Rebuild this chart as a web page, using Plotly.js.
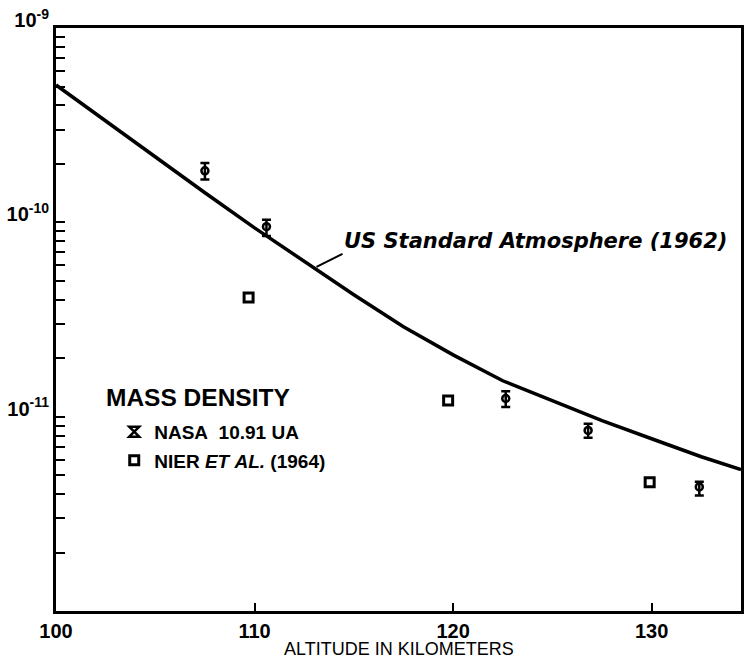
<!DOCTYPE html>
<html>
<head>
<meta charset="utf-8">
<script src="https://cdn.plot.ly/plotly-3.0.1.min.js"></script>
<style>html,body{margin:0;padding:0;background:#fff}#chart{width:745px;height:658px}</style>
</head>
<body>
<div id="chart"></div>
<script>
// US Standard Atmosphere (1962) curve
const curveAlt = [100,102.5,105,107.5,110,112.5,115,117.5,120,122.5,125,127.5,130,132.5,134.5];
const curveRho = [5.09e-10,3.32e-10,2.17e-10,1.42e-10,9.37e-11,6.27e-11,4.24e-11,2.9e-11,2.08e-11,1.53e-11,1.21e-11,9.53e-12,7.7e-12,6.22e-12,5.34e-12];

// NASA 10.91 UA
const nasaAlt = [107.5,110.6,122.65,126.8,132.4];
const nasaRho = [1.84e-10,9.5e-11,1.24e-11,8.5e-12,4.35e-12];
const nasaErrPlus = [1.8e-11,8e-12,1.1e-12,7e-13,2.8e-13];
const nasaErrMinus = [1.8e-11,1e-11,1.2e-12,7e-13,4.2e-13];

// Nier et al. (1964)
const nierAlt = [109.7,119.75,129.9];
const nierRho = [4.1e-11,1.21e-11,4.6e-12];

const xTickVals = [100,110,120,130];
const xTickText = ['100','110','120','130'];
const yTickVals = [1e-12,1e-11,1e-10,1e-9];
const yTickText = ['','10<sup>-11</sup>','10<sup>-10</sup>','10<sup>-9</sup>'];

const annAlt = 113.12, annRho = 5.9e-11;

const F = 'Liberation Sans, Arial, sans-serif';

const traces = [
  {x: curveAlt, y: curveRho, mode: 'lines', line: {color: '#000', width: 3.5}, showlegend: false, hoverinfo: 'skip'},
  {x: nasaAlt, y: nasaRho, mode: 'markers', showlegend: false,
   marker: {symbol: 'circle-open', size: 7, color: '#000', line: {width: 2.5, color: '#000'}},
   error_y: {type: 'data', symmetric: false, array: nasaErrPlus, arrayminus: nasaErrMinus, color: '#000', thickness: 2.5, width: 4.5}},
  {x: nierAlt, y: nierRho, mode: 'markers', showlegend: false,
   marker: {symbol: 'square-open', size: 9, color: '#000', line: {width: 3, color: '#000'}}},
  {x: [null], y: [null], mode: 'markers', name: 'NASA&nbsp; 10.91 UA', legendgroup: 'a',
   marker: {symbol: 'hourglass-open', size: 10, color: '#000', line: {width: 2.5, color: '#000'}}},
  {x: [null], y: [null], mode: 'markers', name: 'NIER&nbsp;<i>ET&nbsp;AL.</i>&nbsp;(1964)', legendgroup: 'b',
   marker: {symbol: 'square-open', size: 9, color: '#000', line: {width: 3, color: '#000'}}}
];

const layout = {
  width: 745, height: 658,
  margin: {l: 56, r: 4, t: 28, b: 47},
  paper_bgcolor: '#fff', plot_bgcolor: '#fff',
  font: {family: F, color: '#000'},
  xaxis: {
    type: 'linear', range: [100, 134.5], tickvals: xTickVals, ticktext: xTickText,
    ticks: 'inside', ticklen: 8, tickwidth: 2, tickcolor: '#000',
    showline: true, linewidth: 3, linecolor: '#000', mirror: true,
    showgrid: false, zeroline: false,
    tickfont: {family: F, size: 20, weight: 'bold'}
  },
  yaxis: {
    type: 'log', range: [-12, -9], tickvals: yTickVals, ticktext: yTickText,
    ticks: 'inside', ticklen: 9, tickwidth: 2, tickcolor: '#000',
    minor: {ticks: 'inside', ticklen: 9, tickwidth: 2, tickcolor: '#000', dtick: 'D1', showgrid: false},
    showline: true, linewidth: 3, linecolor: '#000', mirror: true,
    showgrid: false, zeroline: false,
    tickfont: {family: F, size: 20, weight: 'bold'},
    ticklabelstandoff: 0, ticklabelshift: -8
  },
  showlegend: true,
  legend: {
    x: 0.085, y: 0.34, xanchor: 'left', yanchor: 'top',
    bgcolor: 'rgba(0,0,0,0)', borderwidth: 0,
    font: {family: F, size: 19, weight: 'bold'},
    traceorder: 'grouped', tracegroupgap: 1, itemwidth: 30
  },
  annotations: [{
    x: annAlt, y: Math.log10(annRho), xref: 'x', yref: 'y',
    text: '<b><i>US Standard Atmosphere (1962)</i></b>',
    font: {family: 'DejaVu Sans, sans-serif', size: 21, color: '#000'},
    showarrow: true, arrowhead: 0, arrowwidth: 2, arrowcolor: '#000',
    ax: 26, ay: -13, xanchor: 'left', yanchor: 'bottom', borderpad: 0
  }, {
    x: 0.07, y: 0.366, xref: 'paper', yref: 'paper', xanchor: 'left', yanchor: 'middle',
    text: '<b>MASS DENSITY</b>', showarrow: false,
    font: {family: F, size: 24.5, color: '#000'}
  }, {
    x: 0.5, y: -0.066, xref: 'paper', yref: 'paper', xanchor: 'center', yanchor: 'middle',
    text: 'ALTITUDE IN KILOMETERS', showarrow: false,
    font: {family: F, size: 18, color: '#000'}
  }]
};

Plotly.newPlot('chart', traces, layout, {displayModeBar: false, staticPlot: true});
</script>
</body>
</html>
